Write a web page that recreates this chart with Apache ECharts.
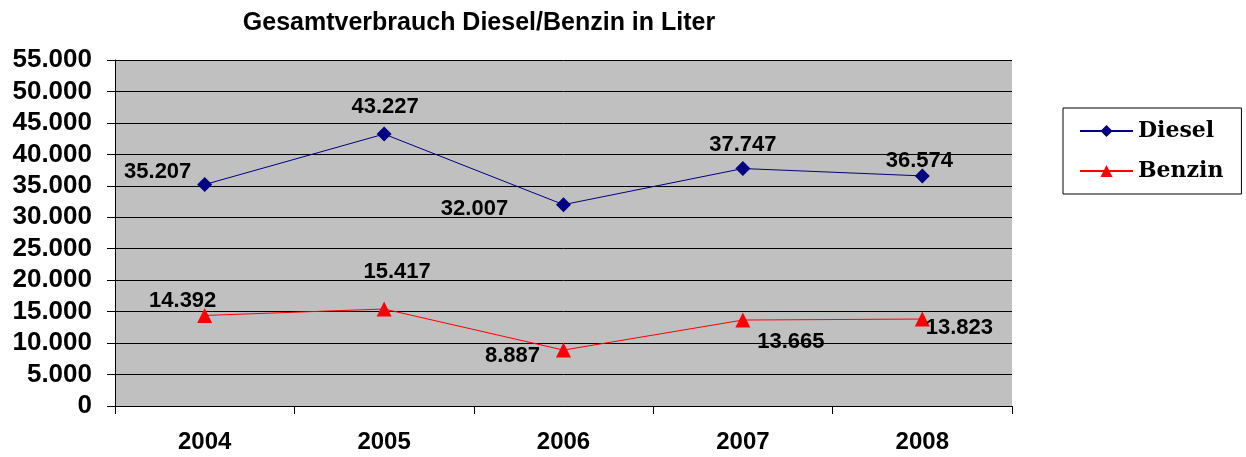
<!DOCTYPE html>
<html>
<head>
<meta charset="utf-8">
<script src="https://cdn.jsdelivr.net/npm/echarts@6/dist/echarts.min.js"></script>
<style>
  html, body { margin: 0; padding: 0; background: #fff; }
  #chart { width: 1246px; height: 457px; }
</style>
</head>
<body>
<div id="chart"></div>
<script>
const years = ["2004", "2005", "2006", "2007", "2008"];
const diesel = [35207, 43227, 32007, 37747, 36574];
const benzin = [14392, 15417, 8887, 13665, 13823];

// label offsets from the marker centre
const dieselLabelOffsets = [[-47, -13], [1, -27], [-89, 4], [0, -24], [-3, -15]];
const benzinLabelOffsets = [[-22, -15], [13, -37], [-51, 6], [48, 22], [37, 9]];

const fmt = (v) => String(v).replace(/\B(?=(\d{3})+(?!\d))/g, ".");

const makeData = (vals, offs) =>
  vals.map((v, i) => ({
    value: v,
    label: { position: "inside", offset: offs[i] },
  }));

const labelStyle = {
  show: true,
  color: "#000",
  fontFamily: "Liberation Sans",
  fontWeight: "bold",
  fontSize: 22,
  formatter: (p) => fmt(p.value),
};

const chart = echarts.init(document.getElementById("chart"));
chart.setOption({
  animation: false,
  backgroundColor: "#fff",
  title: {
    text: "Gesamtverbrauch Diesel/Benzin in Liter",
    left: 474,
    textAlign: "center",
    top: 6,
    textStyle: {
      fontFamily: "Liberation Sans",
      fontWeight: "bold",
      fontSize: 25,
      color: "#000",
    },
  },
  legend: {
    orient: "vertical",
    left: 1063,
    top: 108,
    padding: [12, 18, 12, 16],
    itemGap: 18,
    itemWidth: 53,
    itemHeight: 15,
    borderColor: "#000",
    borderWidth: 1,
    borderRadius: 0,
    textStyle: {
      fontFamily: "DejaVu Serif",
      fontWeight: "bold",
      fontSize: 22,
      color: "#000",
    },
    data: ["Diesel", "Benzin"],
  },
  grid: {
    left: 115,
    right: 234,
    top: 60,
    bottom: 51,
    show: true,
    backgroundColor: "#c0c0c0",
    borderWidth: 0,
  },
  xAxis: {
    type: "category",
    data: years,
    boundaryGap: true,
    axisLine: { lineStyle: { color: "#000", width: 1 } },
    axisTick: { show: true, length: 8, alignWithLabel: false, lineStyle: { color: "#000" } },
    axisLabel: {
      margin: 24,
      color: "#000",
      fontFamily: "Liberation Sans",
      fontWeight: "bold",
      fontSize: 24,
    },
    splitLine: { show: false },
  },
  yAxis: {
    type: "value",
    min: 0,
    max: 55000,
    interval: 5000,
    axisLine: { show: true, lineStyle: { color: "#000", width: 1 } },
    axisTick: { show: true, length: 8, lineStyle: { color: "#000" } },
    axisLabel: {
      margin: 23,
      color: "#000",
      fontFamily: "Liberation Sans",
      fontWeight: "bold",
      fontSize: 26,
      formatter: (v) => fmt(v),
    },
    splitLine: { show: true, lineStyle: { color: "#000", width: 1 } },
  },
  series: [
    {
      name: "Diesel",
      type: "line",
      data: makeData(diesel, dieselLabelOffsets),
      symbol: "diamond",
      symbolSize: 15,
      lineStyle: { color: "#000080", width: 1 },
      itemStyle: { color: "#000080" },
      label: labelStyle,
    },
    {
      name: "Benzin",
      type: "line",
      data: makeData(benzin, benzinLabelOffsets),
      symbol: "triangle",
      symbolSize: 15,
      lineStyle: { color: "#ff0000", width: 1 },
      itemStyle: { color: "#ff0000" },
      label: labelStyle,
    },
  ],
});
</script>
</body>
</html>
